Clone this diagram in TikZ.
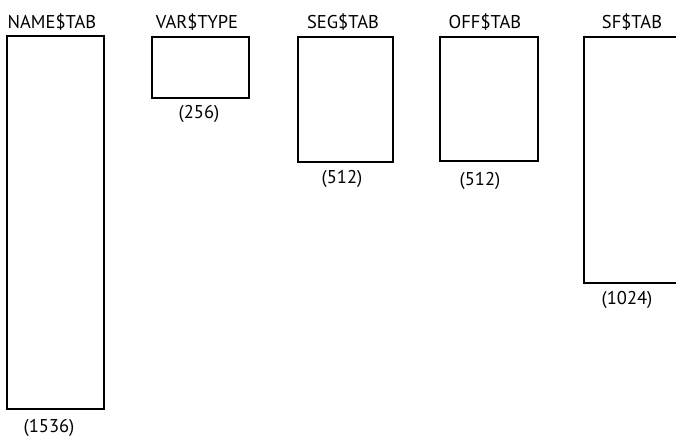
\documentclass[tikz,border=0pt]{standalone}
\usepackage{fontspec}
\setmainfont{PT Sans}
\begin{document}
\begin{tikzpicture}[x=1pt,y=-1pt,
  tab/.style={draw,line width=2.1pt,inner sep=0pt,outer sep=0pt},
  lbl/.style={font=\fontsize{18.5}{20}\selectfont,anchor=base,inner sep=0pt},
  sizelbl/.style={font=\fontsize{18.5}{20}\selectfont,anchor=base,inner sep=0pt}]
\useasboundingbox (0,0) rectangle (676,437);
\clip (0,0) rectangle (676,437);
% boxes
\node[tab,minimum width=97pt,minimum height=373pt] (name) at (55.5,222.5) {};
\node[tab,minimum width=97pt,minimum height=61pt] (var) at (200.5,67.5) {};
\node[tab,minimum width=95pt,minimum height=125pt] (seg) at (345.5,99.5) {};
\node[tab,minimum width=98pt,minimum height=124pt] (off) at (489,99) {};
\node[tab,minimum width=130pt,minimum height=246pt] (sf) at (649,160) {};
% titles
\node[lbl] (tname) at (52,28) {NAME\$TAB};
\node[lbl] (tvar) at (197,28) {VAR\$TYPE};
\node[lbl] (tseg) at (343,28) {SEG\$TAB};
\node[lbl] (toff) at (485,28) {OFF\$TAB};
\node[lbl] (tsf) at (632,28) {SF\$TAB};
% sizes
\node[sizelbl] (cvar) at (199,118) {(256)};
\node[sizelbl] (cseg) at (342,183) {(512)};
\node[sizelbl] (coff) at (480,185) {(512)};
\node[sizelbl] (csf) at (627,304) {(1024)};
\node[sizelbl] (cname) at (49,432) {(1536)};
\end{tikzpicture}
\end{document}
